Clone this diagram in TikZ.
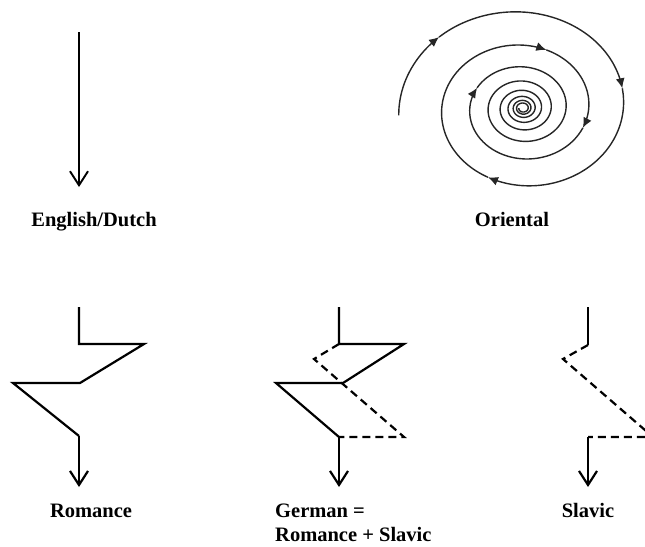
\documentclass[tikz,border=0pt]{standalone}
\usepackage{fontspec}
\setmainfont{Liberation Serif}
\usetikzlibrary{arrows.meta}

\begin{document}
\begin{tikzpicture}[x=1pt, y=-1pt,
    lbl/.style={font=\bfseries\fontsize{20.5}{24}\selectfont, inner sep=0pt},
    path/.style={line width=2.2pt},
    down/.style={-{Straight Barb[length=14pt,width=18pt]}},
    slack/.style={line width=2.2pt, dash pattern=on 8pt off 5pt},
    swirl/.style={line width=1.4pt, black!85},
    turn/.style={-{Latex[length=10pt,width=9pt]}}]
    % spiral: centre (523,108), a = 124
    \def\cx{523} \def\cy{108} \def\a{124}
    \newcommand{\spiralpart}[3]{plot[domain=#1:#2, samples=#3, smooth]
        ({\cx+\a*exp(0.001175*(\x-180))*cos(\x)}, {\cy-0.86*\a*exp(0.001175*(\x-180))*sin(\x)})}

    % page frame
    \clip (0,0) rectangle (645,546);

    % English/Dutch: straight line
    \coordinate (ed top) at (79,32);
    \coordinate (ed tip) at (79,187);
    \draw[path, line width=1.9pt, down] (ed top) -- (ed tip);
    \node[lbl, anchor=base] (ed) at (94,226) {English/Dutch};

    % Oriental: inward spiral
    \draw[swirl, turn] \spiralpart{184}{135.5}{12};
    \draw[swirl, turn] \spiralpart{135.5}{13}{30};
    \draw[swirl, turn] \spiralpart{13}{-113.5}{30};
    \draw[swirl, turn] \spiralpart{-113.5}{-289}{40};
    \draw[swirl, turn] \spiralpart{-289}{-381}{25};
    \draw[swirl, turn] \spiralpart{-381}{-567}{45};
    \draw[swirl] \spiralpart{-567}{-2700}{500};
    \node[lbl, anchor=base] (or) at (512,226) {Oriental};

    % Romance
    \coordinate (r1) at (79,307);
    \coordinate (r2) at (79,344);
    \coordinate (r3) at (144,344);
    \coordinate (r4) at (80,383);
    \coordinate (r5) at (13,383);
    \coordinate (r6) at (79,436);
    \coordinate (r7) at (79,487);
    \draw[path] (r1) -- (r2) -- (r3) -- (r4) -- (r5) -- (r6);
    \draw[path, down] (r6) -- (r7);
    \node[lbl, anchor=base] (ro) at (91,517) {Romance};

    % German = Romance + Slavic
    \coordinate (g1) at (339,307);
    \coordinate (g2) at (339,344);
    \coordinate (g3) at (404,344);
    \coordinate (g4) at (343,383);
    \coordinate (g5) at (276,383);
    \coordinate (g6) at (339,437);
    \coordinate (g7) at (339,487);
    \coordinate (gd1) at (314,359);
    \coordinate (gd2) at (404,437);
    \draw[path] (g1) -- (g2) -- (g3) -- (g4) -- (g5) -- (g6);
    \draw[slack] (g2) -- (gd1) -- (gd2) -- (g6);
    \draw[path, down] (g6) -- (g7);
    \node[lbl, anchor=base west] (ge1) at (275,517) {German =};
    \node[lbl, anchor=base west] (ge2) at (275,541) {Romance + Slavic};

    % Slavic
    \coordinate (s1) at (588,307);
    \coordinate (s2) at (588,345);
    \coordinate (s3) at (563,359);
    \coordinate (s4) at (653,437);
    \coordinate (s5) at (588,437);
    \coordinate (s6) at (588,487);
    \draw[path] (s1) -- (s2);
    \draw[slack] (s2) -- (s3) -- (s4) -- (s5);
    \draw[path, down] (s5) -- (s6);
    \node[lbl, anchor=base] (sl) at (588,517) {Slavic};
\end{tikzpicture}
\end{document}
